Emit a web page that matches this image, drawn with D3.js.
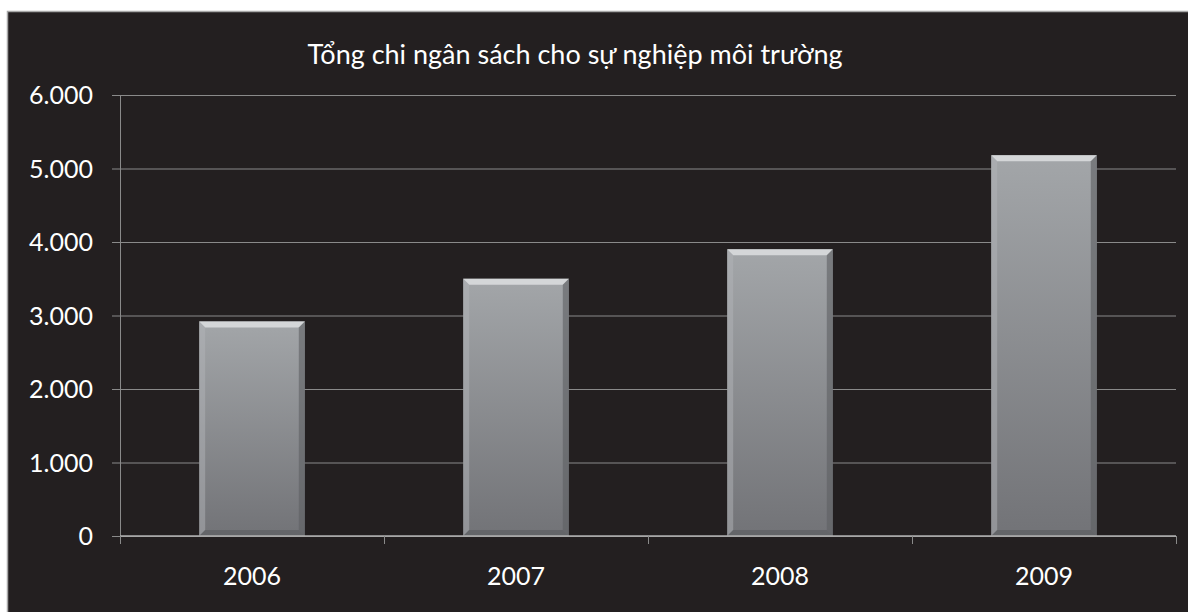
<!DOCTYPE html>
<html lang="vi">
<head>
<meta charset="UTF-8">
<title>Tổng chi ngân sách</title>
<script src="https://cdn.jsdelivr.net/npm/d3@7"></script>
<style>
  body { margin: 0; background: #fff; }
  text { font-family: Lato, "Open Sans", sans-serif; fill: #fff; }
</style>
</head>
<body>
<script>
// data
const years = ["2006", "2007", "2008", "2009"];
const values = [2920, 3500, 3900, 5180];
const yTicks = [0, 1000, 2000, 3000, 4000, 5000, 6000];
const title = "Tổng chi ngân sách cho sự nghiệp môi trường";

const width = 1188, height = 612;
const margin = { top: 95, right: 12, bottom: 76, left: 120 };

const svg = d3.select("body").append("svg")
  .attr("width", width)
  .attr("height", height);

// dark panel with light left/top edge
svg.append("rect")
  .attr("x", 7).attr("y", 11)
  .attr("width", width - 7).attr("height", height - 11)
  .attr("fill", "#231f20");
svg.append("path")
  .attr("d", "M7.5," + height + "V11.5H" + width)
  .attr("fill", "none").attr("stroke", "#a8a8a8").attr("stroke-width", 1.5);

const x = d3.scaleBand()
  .domain(years)
  .range([margin.left, width - margin.right])
  .paddingInner(0.6)
  .paddingOuter(0.3);

const y = d3.scaleLinear()
  .domain([0, 6000])
  .range([height - margin.bottom, margin.top]);

// gradient for the bar body
const defs = svg.append("defs");
const body = defs.append("linearGradient").attr("id", "body")
  .attr("x1", 0).attr("y1", 0).attr("x2", 0).attr("y2", 1);
body.append("stop").attr("offset", "0%").attr("stop-color", "#a3a6a9");
body.append("stop").attr("offset", "100%").attr("stop-color", "#727377");

const g = svg.append("g");

// gridlines
g.append("g")
  .attr("transform", "translate(" + margin.left + ",0)")
  .call(d3.axisLeft(y).tickValues(yTicks).tickSize(-(width - margin.left - margin.right)).tickFormat(""))
  .call(s => s.select(".domain").remove())
  .call(s => s.selectAll("line").attr("stroke", "#8a8a8a").attr("stroke-width", 1));

// y axis with small ticks
const yAxis = g.append("g")
  .attr("transform", "translate(" + margin.left + ",0)")
  .call(d3.axisLeft(y).tickValues(yTicks).tickSize(8).tickPadding(19)
    .tickFormat(d => d3.format(",")(d).replace(/,/g, ".")));
yAxis.select(".domain").attr("stroke", "#8a8a8a").attr("d", "M0.5," + y(6000) + "V" + (y(0) + 7));
yAxis.selectAll("line").attr("stroke", "#8a8a8a");
yAxis.selectAll("text").attr("font-size", 25).attr("fill", "#fff").attr("dy", "0.34em");

// bars
const bw = x.bandwidth();
const bars = g.selectAll(".bar").data(values).enter().append("g")
  .attr("class", "bar")
  .attr("transform", (d, i) => "translate(" + x(years[i]) + "," + y(d) + ")");

bars.append("rect")
  .attr("width", bw)
  .attr("height", d => y(0) - y(d))
  .attr("fill", "url(#body)");

const bev = 6;
// top bevel
bars.append("path")
  .attr("d", "M0,0H" + bw + "L" + (bw - bev) + "," + bev + "H" + bev + "Z")
  .attr("fill", "#d4d6d8");
// left bevel
bars.append("path")
  .attr("d", d => "M0,0L" + bev + "," + bev + "V" + (y(0) - y(d) - bev) + "L0," + (y(0) - y(d)) + "Z")
  .attr("fill", "#b2b4b7").attr("opacity", 0.5);
// right bevel
bars.append("path")
  .attr("d", d => "M" + bw + ",0L" + (bw - bev) + "," + bev + "V" + (y(0) - y(d) - bev) + "L" + bw + "," + (y(0) - y(d)) + "Z")
  .attr("fill", "#5e5f63").attr("opacity", 0.6);
// bottom bevel
bars.append("path")
  .attr("d", d => {
    const h = y(0) - y(d);
    return "M0," + h + "L" + bev + "," + (h - bev) + "H" + (bw - bev) + "L" + bw + "," + h + "Z";
  })
  .attr("fill", "#5a5b5f").attr("opacity", 0.6);

// x axis
const xAxis = g.append("g")
  .attr("transform", "translate(0," + y(0) + ")")
  .call(d3.axisBottom(x).tickSize(0).tickPadding(40));
xAxis.select(".domain").attr("stroke", "#b0b0b0").attr("stroke-width", 1.5)
  .attr("d", "M" + margin.left + ",0H" + (width - margin.right));
xAxis.selectAll("text").attr("font-size", 25).attr("fill", "#fff").attr("dy", "0.35em");
// category separator ticks
const sepX = [margin.left].concat(years.map((d, i) => margin.left + (i + 1) * (width - margin.left - margin.right) / years.length));
xAxis.selectAll(".sep").data(sepX).enter().append("line")
  .attr("class", "sep")
  .attr("x1", d => d + 0.5).attr("x2", d => d + 0.5)
  .attr("y1", 0).attr("y2", 8)
  .attr("stroke", "#8a8a8a");

// title
svg.append("text")
  .attr("x", 575).attr("y", 64)
  .attr("text-anchor", "middle")
  .attr("font-size", 27)
  .text(title);
</script>
</body>
</html>
